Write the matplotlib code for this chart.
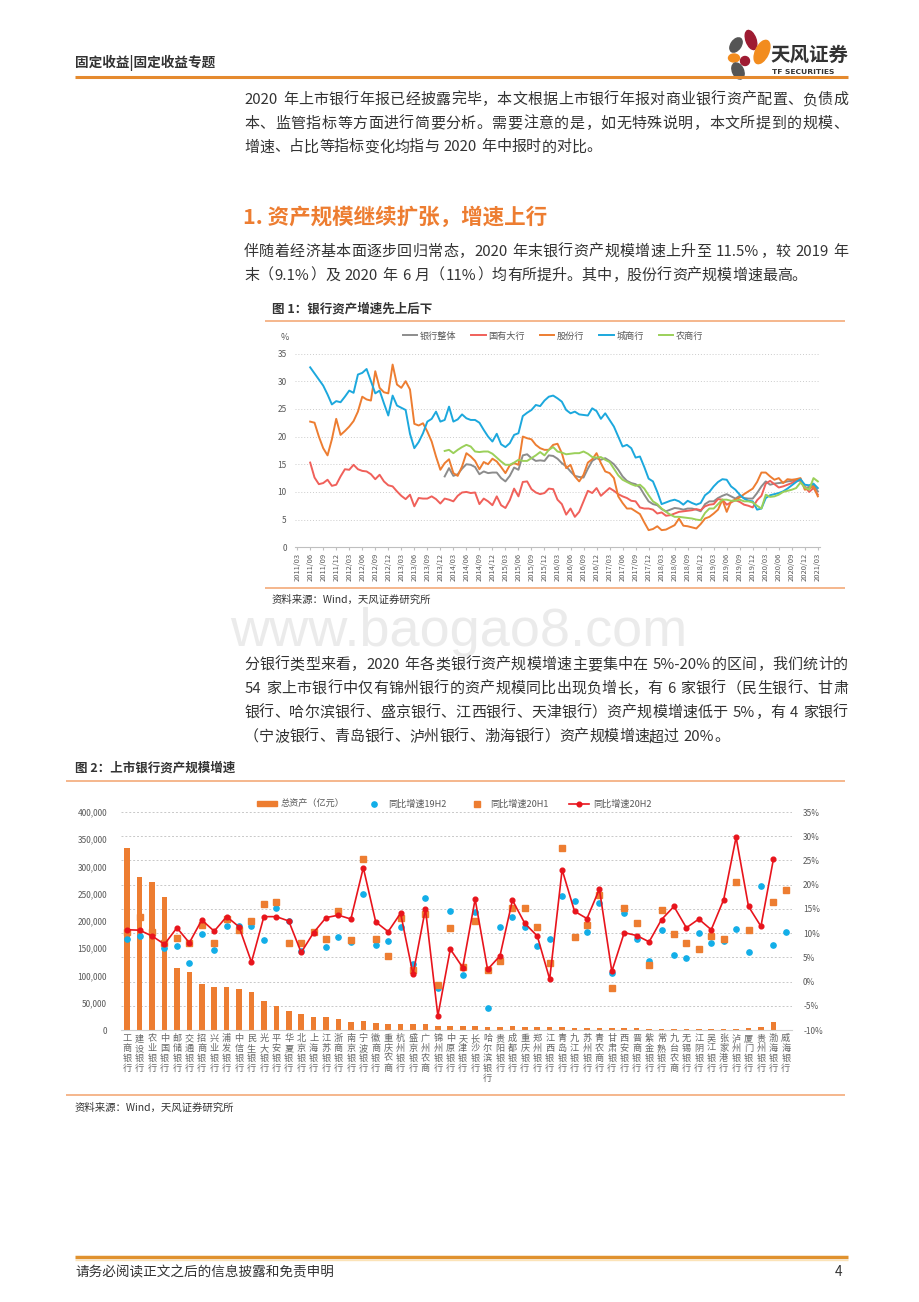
import re
import numpy as np
import matplotlib
matplotlib.use('Agg')
import matplotlib.pyplot as plt
from matplotlib.patches import Ellipse, Circle, Patch
from matplotlib.lines import Line2D

plt.rcParams['font.family'] = ['Noto Sans CJK SC', 'DejaVu Sans']
plt.rcParams['axes.unicode_minus'] = False

nan = np.nan

# ---- 图1：各类银行资产同比增速（%），月度，2011/03-2021/03 ----
series_names = ['银行整体', '国有大行', '股份行', '城商行', '农商行']
series_colors = ['#8c8c8c', '#f0605a', '#ed7d31', '#1ca8dd', '#9bd05a']

all_banks = [12.8, 14.3, 12.9, 13.2, 14.2, 15.0, 14.9, 14.5, 13.2, 13.7,
             13.4, 13.5, 13.5, 12.5, 11.9, 12.9, 14.4, 14.0, 16.6, 16.8,
             16.1, 15.6, 15.7, 15.6, 16.6, 16.5, 16.0, 15.2, 14.6, 13.7,
             12.9, 12.7, 12.6, 14.2, 15.6, 16.1, 15.8, 16.1, 15.6, 15.0,
             14.0, 12.8, 12.0, 11.6, 11.4, 10.8, 9.5, 8.3, 7.8, 7.6,
             6.9, 6.5, 6.8, 7.1, 7.0, 6.8, 7.0, 7.0, 6.8, 6.5,
             7.8, 8.3, 8.3, 8.9, 9.3, 9.6, 9.2, 8.8, 9.3, 8.9,
             8.8, 8.8, 9.8, 11.0, 11.9, 11.3, 11.5, 11.6, 11.7, 11.9,
             12.0, 12.2, 12.3, 10.7, 10.9, 11.3, 10.1]
big_banks = [15.3, 12.6, 11.4, 11.6, 12.2, 11.1, 11.3, 12.8, 14.1, 14.0,
             14.9, 14.1, 13.8, 13.7, 13.2, 12.3, 13.1, 11.9, 11.2, 11.0,
             10.1, 9.3, 8.7, 9.5, 7.4, 8.9, 8.8, 8.8, 9.2, 8.7,
             7.9, 8.8, 8.6, 8.3, 9.3, 9.9, 10.0, 9.8, 9.9, 7.8,
             8.8, 8.3, 7.6, 9.2, 7.6, 7.1, 8.5, 10.6, 9.2, 11.8,
             11.9, 10.5, 9.9, 9.6, 9.8, 10.6, 10.5, 8.6, 7.8, 5.9,
             7.0, 5.5, 6.4, 8.3, 10.2, 9.8, 10.7, 9.3, 10.0, 10.7,
             10.2, 9.6, 9.2, 8.9, 8.4, 8.3, 7.2, 7.0, 7.0, 6.8,
             6.1, 6.3, 5.7, 5.8, 6.1, 6.4, 6.5, 6.6, 6.7, 6.9,
             6.7, 7.4, 7.7, 7.8, 8.7, 8.6, 7.7, 8.1, 8.5, 8.2,
             7.7, 7.5, 7.2, 8.5, 9.3, 11.5, 12.0, 11.4, 10.8, 11.0,
             11.3, 11.6, 12.1, 12.0, 11.0, 10.0, 10.7, 9.5]
joint_stock = [22.7, 22.5, 20.0, 17.9, 16.6, 19.5, 23.2, 20.3, 21.0, 21.8,
               22.8, 24.5, 27.2, 26.7, 26.5, 31.8, 28.8, 28.0, 27.8, 33.0,
               29.4, 28.8, 30.0, 28.5, 22.3, 22.0, 22.4, 20.9, 19.1, 16.4,
               14.0, 15.2, 15.9, 13.4, 12.9, 14.6, 17.0, 16.4, 15.6, 14.1,
               15.4, 15.0, 16.0, 15.5, 14.5, 13.4, 14.8, 15.2, 14.9, 20.0,
               19.7, 19.5, 18.5, 17.9, 17.6, 17.6, 18.5, 18.7, 17.0, 14.3,
               14.9, 12.8, 11.9, 13.1, 15.3, 15.9, 17.0, 15.2, 13.7, 13.4,
               12.5, 9.2, 8.0, 7.0, 7.0, 6.5, 6.0, 4.5, 3.1, 3.3,
               3.8, 3.1, 3.2, 3.6, 4.0, 5.2, 3.9, 3.8, 3.6, 3.4,
               4.2, 5.2, 5.5, 6.1, 6.8, 8.6, 6.4, 8.3, 8.6, 9.0,
               9.6, 10.1, 10.6, 11.8, 13.5, 13.5, 12.8, 12.2, 12.5, 11.6,
               12.3, 12.2, 12.3, 12.5, 10.4, 10.6, 11.0, 9.2]
city_banks = [32.5, 31.4, 30.3, 29.2, 27.6, 25.8, 26.4, 26.2, 27.2, 28.3,
              27.9, 31.2, 31.5, 32.2, 30.0, 27.8, 28.3, 26.0, 23.8, 27.4,
              25.6, 25.2, 24.8, 20.5, 17.9, 19.0, 20.6, 22.7, 23.2, 24.5,
              22.7, 23.0, 25.4, 22.7, 23.1, 24.0, 23.3, 23.0, 23.0, 22.5,
              21.2, 20.0, 19.1, 20.5, 18.6, 18.1, 18.8, 20.3, 20.6, 23.7,
              24.3, 24.8, 25.7, 25.5, 26.5, 27.2, 27.4, 26.9, 26.3, 24.8,
              24.2, 24.5, 24.0, 23.9, 23.8, 25.1, 24.6, 23.2, 24.2, 23.0,
              21.8, 20.0, 18.2, 18.5, 17.9, 16.2, 16.4, 14.5, 12.4, 11.9,
              10.0, 7.8, 8.1, 8.4, 8.6, 8.3, 7.7, 8.4, 8.0, 7.7,
              8.0, 9.4, 10.0, 11.0, 11.8, 12.3, 12.2, 11.0, 10.4, 9.5,
              8.8, 8.4, 8.3, 6.8, 7.0, 8.9, 9.4, 9.6, 9.8, 10.1,
              10.6, 11.2, 11.8, 12.3, 11.3, 11.2, 11.5, 10.7]
rural_banks = [17.4, 17.6, 17.0, 17.6, 18.1, 18.5, 18.2, 17.3, 17.2, 17.3,
               17.3, 16.9, 16.2, 15.5, 14.9, 14.9, 15.3, 15.8, 15.6, 15.6,
               16.1, 16.6, 17.2, 16.6, 17.6, 18.1, 17.3, 17.1, 16.8, 16.9,
               17.0, 17.0, 17.3, 16.9, 16.3, 16.2, 16.3, 15.8, 15.4, 14.2,
               13.0, 12.2, 11.8, 11.4, 11.1, 11.3, 10.6, 9.4, 8.3, 7.8,
               7.0, 6.4, 5.9, 5.5, 5.5, 5.4, 5.3, 5.2, 5.0, 4.9,
               6.2, 7.0, 7.0, 7.8, 8.6, 8.6, 8.4, 8.4, 8.6, 8.3,
               8.3, 8.1, 7.5, 7.0, 9.5, 9.1, 9.2, 9.5, 10.0, 10.2,
               10.4, 10.7, 11.7, 10.8, 10.4, 12.5, 11.9]

n_months = 121
month_labels = [f'{2011 + (i + 2) // 12}/{(i + 2) % 12 + 1:02d}' for i in range(n_months)]

# ---- 图2：上市银行总资产与增速 ----
banks = ['工商银行', '建设银行', '农业银行', '中国银行', '邮储银行', '交通银行', '招商银行',
         '兴业银行', '浦发银行', '中信银行', '民生银行', '光大银行', '平安银行', '华夏银行',
         '北京银行', '上海银行', '江苏银行', '浙商银行', '南京银行', '宁波银行', '徽商银行',
         '重庆农商', '杭州银行', '盛京银行', '广州农商', '锦州银行', '中原银行', '天津银行',
         '长沙银行', '哈尔滨银行', '贵阳银行', '成都银行', '重庆银行', '郑州银行', '江西银行',
         '青岛银行', '九江银行', '苏州银行', '青农商行', '甘肃银行', '西安银行', '晋商银行',
         '紫金银行', '常熟银行', '九台农商', '无锡银行', '江阴银行', '吴江银行', '张家港行',
         '泸州银行', '厦门银行', '贵州银行', '渤海银行', '威海银行']
assets = [333451, 281323, 272050, 244027, 113533, 106976, 83614, 78940, 79502, 75111,
          69502, 53681, 44685, 33998, 29000, 24621, 23379, 20482, 15171, 16267,
          12720, 11359, 11693, 10478, 10302, 7900, 7500, 6909, 7165, 6000,
          5931, 6524, 5616, 5478, 4863, 4600, 4143, 4165, 4000, 3440,
          3221, 2800, 2170, 2000, 1900, 1770, 1460, 1420, 1440, 1000,
          2900, 4700, 13900, nan]
growth_19h2 = [8.7, 9.5, 9.8, 7.0, 7.4, 3.9, 9.9, 6.5, 11.4, 11.4,
               11.4, 8.6, 15.1, 12.5, 6.3, 10.3, 7.2, 9.3, 8.1, 18.0,
               7.6, 8.3, 11.2, 3.6, 17.2, -1.25, 14.5, 1.4, 14.3, -5.4,
               11.3, 13.4, 11.3, 7.4, 8.8, 17.6, 16.6, 10.3, 16.2, 1.85,
               14.2, 8.8, 4.3, 10.7, 5.4, 4.8, 10.0, 7.9, 8.4, 10.9,
               6.1, 19.8, 7.5, 10.3]
growth_20h1 = [10.3, 13.4, 10.3, 8.0, 8.9, 7.9, 11.6, 7.9, 13.0, 10.6,
               12.6, 16.0, 16.4, 7.9, 7.9, 10.2, 8.7, 14.5, 8.5, 25.4,
               8.7, 5.2, 13.2, 2.3, 14.0, -0.7, 11.0, 3.0, 12.5, 2.35,
               4.2, 15.1, 15.2, 11.2, 3.8, 27.6, 9.3, 11.6, 17.9, -1.3,
               15.1, 12.0, 3.4, 14.7, 9.9, 7.9, 6.7, 9.4, 8.8, 20.6,
               10.7, nan, 16.4, 18.8]
growth_20h2 = [10.7, 10.6, 9.4, 7.7, 11.1, 8.0, 12.7, 10.4, 13.4, 11.3,
               4.0, 13.4, 13.4, 12.5, 6.0, 10.1, 13.2, 13.7, 12.9, 23.5,
               12.3, 10.3, 14.1, 1.5, 15.0, -7.1, 6.7, 2.9, 17.0, 2.5,
               5.3, 16.8, 12.0, 9.4, 0.5, 23.1, 14.5, 13.0, 19.1, 2.1,
               10.1, 9.5, 8.2, 12.8, 15.5, 11.1, 12.9, 10.7, 16.9, 29.8,
               15.5, 11.4, 25.2, nan]

W, H = 920, 1302
fig = plt.figure(figsize=(W / 100, H / 100), dpi=100)
fig.patch.set_facecolor('white')
renderer = fig.canvas.get_renderer()

# page layer in pixel coordinates
page = fig.add_axes([0, 0, 1, 1])
page.set_xlim(0, W)
page.set_ylim(H, 0)
page.axis('off')

TXT = '#333333'
GRAY = '#595959'


def put(x, y, s, size, color=TXT, weight='normal', **kw):
    page.text(x, y, s, fontsize=size, color=color, fontweight=weight,
              va='center', ha=kw.pop('ha', 'left'), **kw)


def line_text(x0, x1, y, s, size, justify=True):
    # lay the line out token by token so it can be justified like the report
    em = size * 100 / 72
    tokens = re.findall(r'[A-Za-z0-9.%\-]+| |.', s)
    items = []
    for tok in tokens:
        if tok == ' ':
            if items:
                items[-1][1] += 0.25 * em
        elif ord(tok[0]) > 0x2E80:
            items.append([tok, em])
        else:
            t = page.text(0, y, tok, fontsize=size, color=TXT, va='center', ha='left')
            items.append([t, t.get_window_extent(renderer).width + 0.1 * em])
    natural = sum(w for _, w in items)
    gap = (x1 - x0 - natural) / (len(items) - 1) if justify else 0.0
    x = x0
    for obj, w in items:
        if isinstance(obj, str):
            page.text(x + em / 2, y, obj, fontsize=size, color=TXT, va='center', ha='center')
        else:
            obj.set_x(x + 0.05 * em)
        x += w + gap


def paragraph(lines, y0, step, size=10.8):
    for i, ln in enumerate(lines):
        line_text(244, 848, y0 + i * step, ln, size, justify=(i < len(lines) - 1))


def rule(x0, x1, y, color, lw):
    page.plot([x0, x1], [y, y], color=color, lw=lw, solid_capstyle='butt')


def box(left, top, right, bottom):
    return [left / W, 1 - bottom / H, (right - left) / W, (bottom - top) / H]


# header
put(75, 63, '固定收益|固定收益专题', 9.8, weight='bold')
rule(75, 848, 77, '#e58a2e', 2.2)
page.add_patch(Ellipse((751, 40), 10, 20, angle=-20, color='#9e1b32'))
page.add_patch(Ellipse((762, 52), 13, 25, angle=25, color='#f28c1e'))
page.add_patch(Ellipse((736, 45), 10, 16, angle=35, color='#555555'))
page.add_patch(Ellipse((734, 58), 11, 8, angle=0, color='#f28c1e'))
page.add_patch(Circle((745, 61), 4.5, color='#9e1b32'))
page.add_patch(Ellipse((738, 71), 11, 17, angle=-25, color='#555555'))
put(770, 55, '天风证券', 14, weight='bold')
put(772, 72, 'TF SECURITIES', 5.4, weight='bold', family=['DejaVu Sans'])

# paragraphs
paragraph(['2020 年上市银行年报已经披露完毕，本文根据上市银行年报对商业银行资产配置、负债成',
           '本、监管指标等方面进行简要分析。需要注意的是，如无特殊说明，本文所提到的规模、',
           '增速、占比等指标变化均指与 2020 年中报时的对比。'], 100, 23.7)

put(243, 217, '1. 资产规模继续扩张，增速上行', 15.5, color='#ed7d31', weight='bold')

paragraph(['伴随着经济基本面逐步回归常态，2020 年末银行资产规模增速上升至 11.5%，较 2019 年',
           '末（9.1%）及 2020 年 6 月（11%）均有所提升。其中，股份行资产规模增速最高。'], 252, 23.7)

# figure 1 frame
put(272, 309, '图 1：银行资产增速先上后下', 9, weight='bold')
rule(265, 845, 321, '#f4b183', 1.3)
rule(265, 845, 588, '#f4b183', 1.3)
put(272, 600, '资料来源：Wind，天风证券研究所', 7.5)
put(281, 337, '%', 6.5, color=GRAY)

page.text(459, 632, 'www.baogao8.com', fontsize=39, color='#ebebeb',
          ha='center', va='center', family=['Liberation Sans'])

paragraph(['分银行类型来看，2020 年各类银行资产规模增速主要集中在 5%-20%的区间，我们统计的',
           '54 家上市银行中仅有锦州银行的资产规模同比出现负增长，有 6 家银行（民生银行、甘肃',
           '银行、哈尔滨银行、盛京银行、江西银行、天津银行）资产规模增速低于 5%，有 4 家银行',
           '（宁波银行、青岛银行、泸州银行、渤海银行）资产规模增速超过 20%。'], 665, 24.0)

# figure 2 frame
put(75, 768, '图 2：上市银行资产规模增速', 9, weight='bold')
rule(66, 845, 781, '#f4b183', 1.3)
rule(66, 845, 1095, '#f4b183', 1.3)
put(75, 1108, '资料来源：Wind，天风证券研究所', 7.5)

# footer
rule(75, 848, 1257, '#e0922f', 2.5)
rule(75, 848, 1259.5, '#fbe3b8', 1.0)
put(75, 1272, '请务必阅读正文之后的信息披露和免责申明', 9.8)
put(842, 1272, '4', 9.8, ha='right')

# ---- chart 1 ----
ax1 = fig.add_axes(box(295, 353.5, 820, 547.3))
x_m = np.arange(n_months)
data1 = [all_banks, big_banks, joint_stock, city_banks, rural_banks]
for name, vals, col in zip(series_names, data1, series_colors):
    full = [nan] * (n_months - len(vals)) + vals
    ax1.plot(x_m, full, color=col, lw=1.4, label=name)
ax1.set_xlim(-0.5, n_months - 0.5)
ax1.set_ylim(0, 35)
ax1.set_yticks(range(0, 36, 5))
ax1.set_xticks(x_m[::3])
ax1.set_xticklabels(month_labels[::3], rotation=90, fontsize=5.4, color=GRAY)
ax1.tick_params(axis='y', length=0, labelsize=6, labelcolor=GRAY, pad=6)
ax1.tick_params(axis='x', length=2, color='#bfbfbf', pad=2)
ax1.grid(axis='y', color='#cccccc', lw=0.7, ls=(0, (1, 2)))
for s in ['top', 'right', 'left']:
    ax1.spines[s].set_visible(False)
ax1.spines['bottom'].set_color('#bfbfbf')
ax1.set_facecolor('none')
fig.legend(*ax1.get_legend_handles_labels(), loc='center',
           bbox_to_anchor=(553 / W, 1 - 336 / H), ncol=5, frameon=False,
           fontsize=6.6, labelcolor=GRAY, handlelength=1.6, columnspacing=1.6,
           handletextpad=0.3)

# ---- chart 2 ----
ax2 = fig.add_axes(box(121, 812, 792, 1030))
xb = np.arange(len(banks))
ax2.set_xlim(-0.5, len(banks) - 0.5)
ax2.set_ylim(0, 400000)
grid_pct = list(range(-10, 36, 5))
ax2.hlines([(p + 10) / 45 * 400000 for p in grid_pct], -0.5, len(banks) - 0.5,
           colors='#c8c8c8', lw=0.7, linestyles=(0, (2, 2)), zorder=0)
ax2.bar(xb, assets, width=0.45, color='#ed7d31', zorder=2)
ax2.set_yticks(range(0, 400001, 50000))
ax2.set_yticklabels([f'{v:,}' for v in range(0, 400001, 50000)])
ax2.set_xticks(xb)
ax2.set_xticklabels(['\n'.join(b) for b in banks], fontsize=6.6, color='#666666',
                    linespacing=1.12)
ax2.tick_params(axis='y', length=0, labelsize=6, labelcolor=GRAY, pad=10)
ax2.tick_params(axis='x', length=0, pad=3)
for s in ['top', 'right', 'left']:
    ax2.spines[s].set_visible(False)
ax2.spines['bottom'].set_color('#d0d0d0')

ax3 = ax2.twinx()
ax3.set_ylim(-10, 35)
ax3.set_yticks(grid_pct)
ax3.set_yticklabels([f'{p}%' for p in grid_pct])
ax3.tick_params(axis='y', length=0, labelsize=6, labelcolor=GRAY, pad=8)
for s in ['top', 'right', 'left', 'bottom']:
    ax3.spines[s].set_visible(False)
ax3.plot(xb, growth_19h2, 'o', color='#12aee8', ms=3.8, zorder=3)
ax3.plot(xb, growth_20h1, 's', color='#ed7d31', ms=4.0, zorder=3)
ax3.plot(xb, growth_20h2, '-o', color='#e8141c', lw=1.2, ms=3.4, zorder=4)

handles = [Patch(color='#ed7d31'),
           Line2D([], [], ls='none', marker='o', color='#12aee8', ms=3.8),
           Line2D([], [], ls='none', marker='s', color='#ed7d31', ms=4.0),
           Line2D([], [], ls='-', marker='o', color='#e8141c', lw=1.2, ms=3.4)]
labels = ['总资产（亿元）', '同比增速19H2', '同比增速20H1', '同比增速20H2']
fig.legend(handles, labels, loc='center', bbox_to_anchor=(454 / W, 1 - 804 / H),
           ncol=4, frameon=False, fontsize=6.6, labelcolor=GRAY,
           handlelength=2.2, handleheight=0.5, columnspacing=2.2, handletextpad=0.4)

fig.savefig('out.png', dpi=100, facecolor='white')
